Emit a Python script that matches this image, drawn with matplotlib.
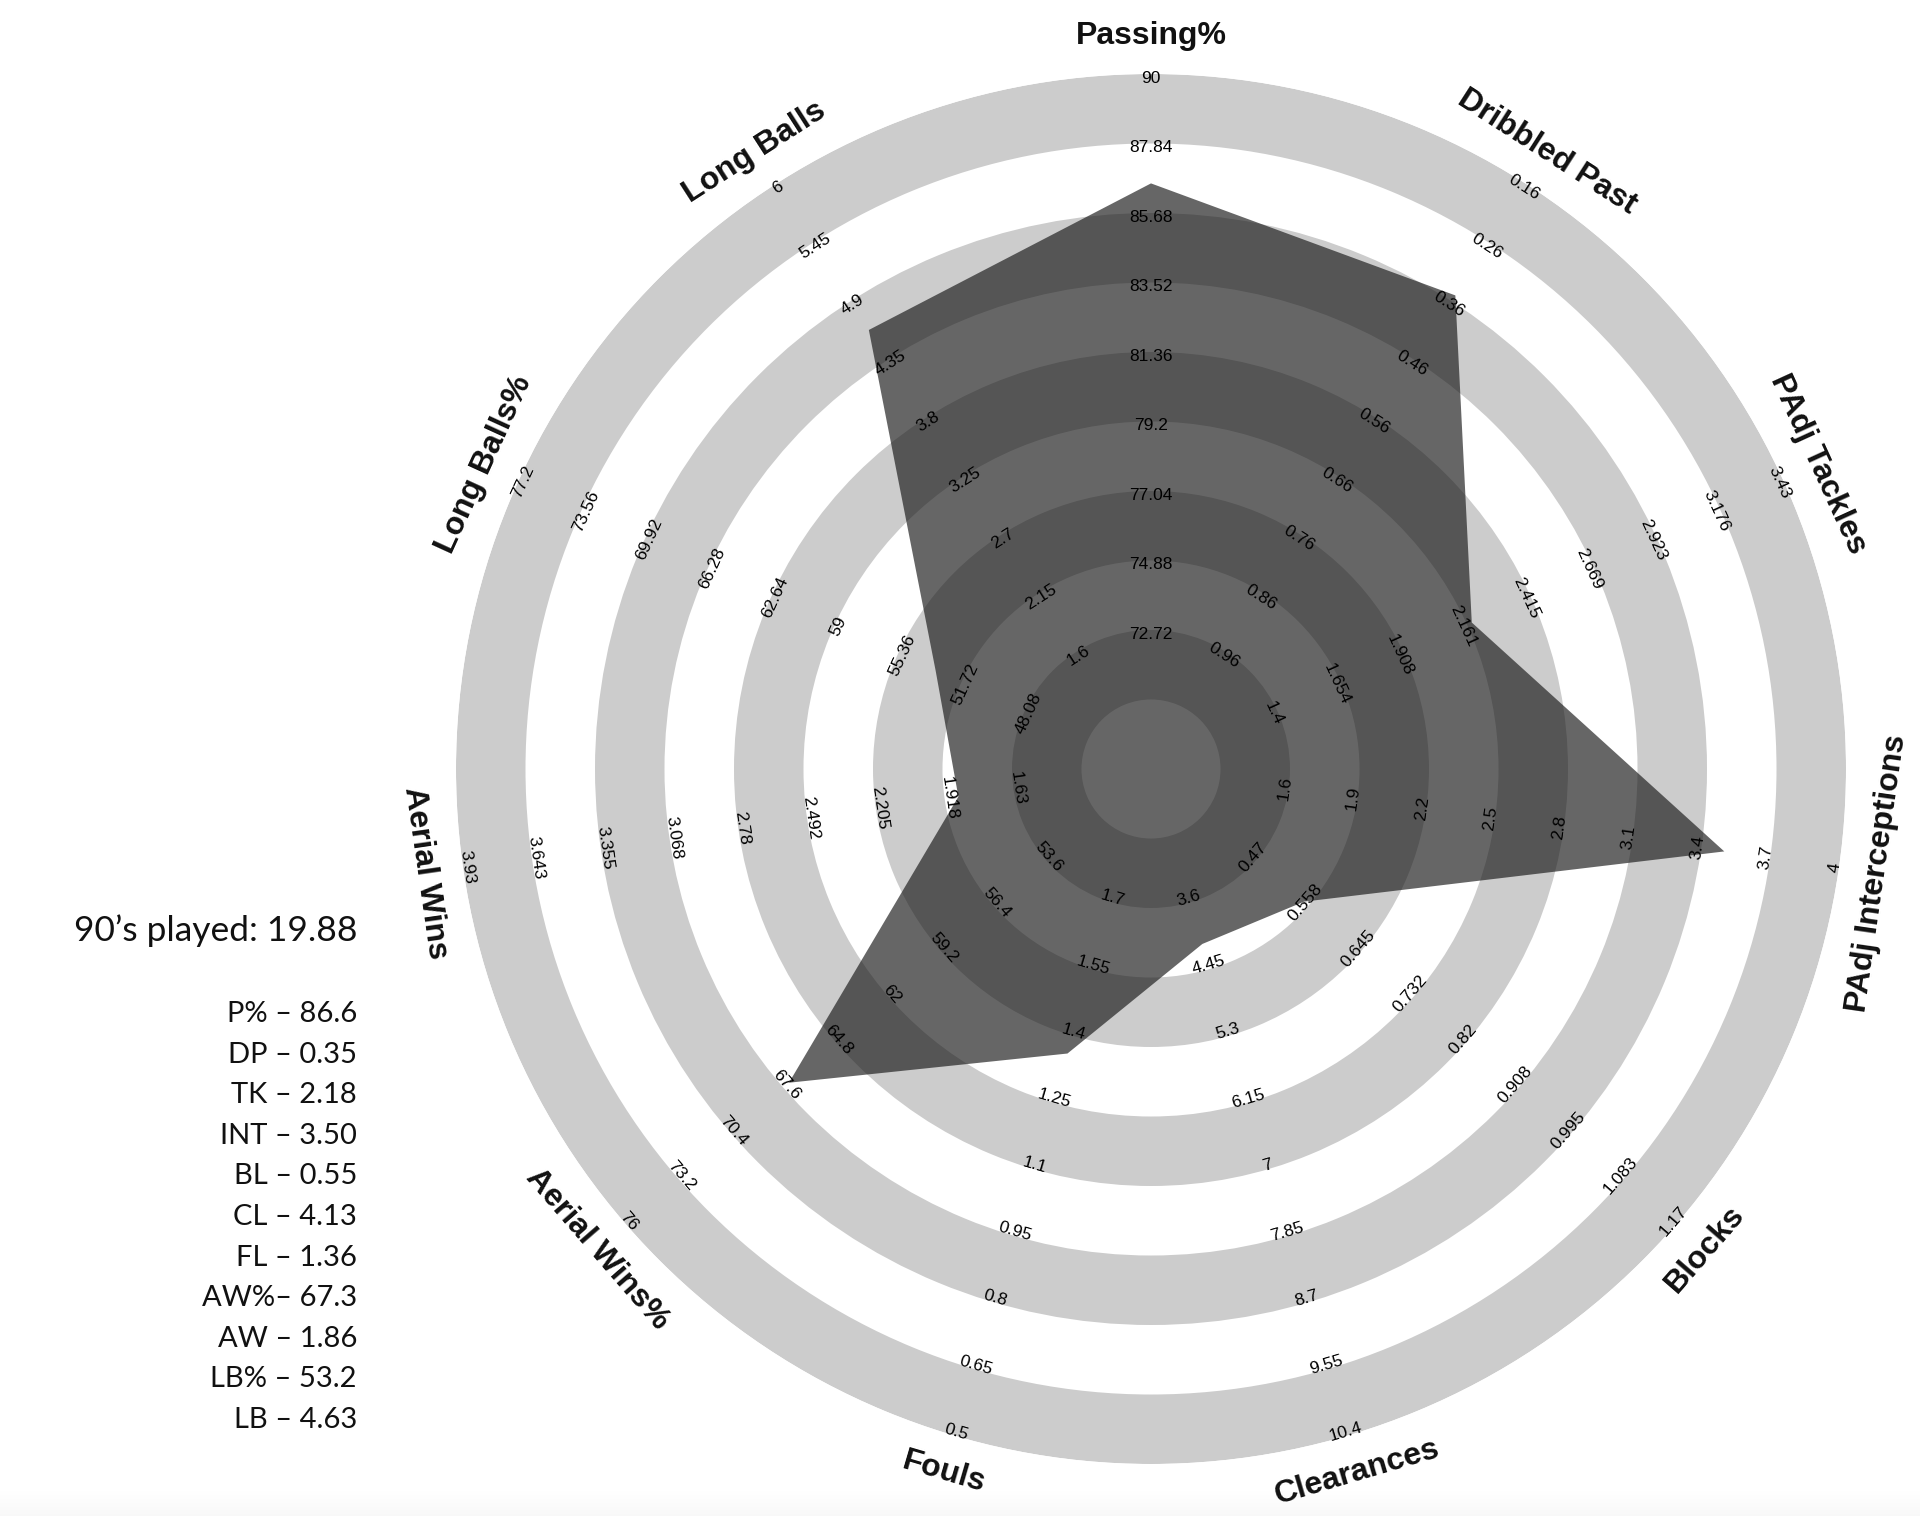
import numpy as np
import matplotlib
matplotlib.use("Agg")
import matplotlib.pyplot as plt

# ---------------- data ----------------
axis_names = ["Passing%", "Dribbled Past", "PAdj Tackles", "PAdj Interceptions",
              "Blocks", "Clearances", "Fouls", "Aerial Wins%", "Aerial Wins",
              "Long Balls%", "Long Balls"]

tick_passing = ["72.72", "74.88", "77.04", "79.2", "81.36", "83.52", "85.68", "87.84", "90"]
tick_dribbled = ["0.96", "0.86", "0.76", "0.66", "0.56", "0.46", "0.36", "0.26", "0.16"]
tick_tackles = ["1.4", "1.654", "1.908", "2.161", "2.415", "2.669", "2.923", "3.176", "3.43"]
tick_intercept = ["1.6", "1.9", "2.2", "2.5", "2.8", "3.1", "3.4", "3.7", "4"]
tick_blocks = ["0.47", "0.558", "0.645", "0.732", "0.82", "0.908", "0.995", "1.083", "1.17"]
tick_clear = ["3.6", "4.45", "5.3", "6.15", "7", "7.85", "8.7", "9.55", "10.4"]
tick_fouls = ["1.7", "1.55", "1.4", "1.25", "1.1", "0.95", "0.8", "0.65", "0.5"]
tick_aerialpct = ["53.6", "56.4", "59.2", "62", "64.8", "67.6", "70.4", "73.2", "76"]
tick_aerial = ["1.63", "1.918", "2.205", "2.492", "2.78", "3.068", "3.355", "3.643", "3.93"]
tick_longpct = ["48.08", "51.72", "55.36", "59", "62.64", "66.28", "69.92", "73.56", "77.2"]
tick_long = ["1.6", "2.15", "2.7", "3.25", "3.8", "4.35", "4.9", "5.45", "6"]

player_values = [86.6, 0.35, 2.18, 3.50, 0.55, 4.13, 1.36, 67.3, 1.86, 53.2, 4.63]

stat_labels = ["P% –", "DP –", "TK –", "INT –", "BL –", "CL –", "FL –",
               "AW%–", "AW –", "LB% –", "LB –"]
stat_decimals = [1, 2, 2, 2, 2, 2, 2, 1, 2, 1, 2]
nineties_played = 19.88

all_ticks = [tick_passing, tick_dribbled, tick_tackles, tick_intercept, tick_blocks,
             tick_clear, tick_fouls, tick_aerialpct, tick_aerial, tick_longpct, tick_long]

# ---------------- figure ----------------
W, H = 1920, 1516
fig = plt.figure(figsize=(W / 100, H / 100), dpi=100)
fig.patch.set_facecolor("white")

# very faint shadow strip along the bottom edge
bax = fig.add_axes([0, 0, 1, 26 / H])
bax.imshow(np.linspace(0.0, 1.0, 50).reshape(-1, 1) * np.ones((1, 10)),
           cmap="Greys", vmin=0, vmax=18, aspect="auto", extent=[0, 1, 0, 1])
bax.axis("off")

cx, cy, R = 1151, 769, 695  # centre & outer radius in pixels (layout)
ax = fig.add_axes([(cx - R) / W, (H - cy - R) / H, 2 * R / W, 2 * R / H],
                  projection="polar")
ax.set_theta_zero_location("N")
ax.set_theta_direction(-1)
ax.set_ylim(0, 10)
ax.axis("off")

n = len(axis_names)
thetas = np.array([2 * np.pi * i / n for i in range(n)])

# concentric bands
for k in [1, 3, 5, 7, 9]:
    ax.bar(0, 1, width=2 * np.pi, bottom=k, align="edge",
           color="#cccccc", linewidth=0, zorder=1)

# scale each value onto radius 2..10 using the axis' tick labels
def to_radius(v, ticks):
    t0, t1 = float(ticks[0]), float(ticks[-1])
    return 2 + 8 * (v - t0) / (t1 - t0)

radii = np.array([to_radius(v, t) for v, t in zip(player_values, all_ticks)])
ax.fill(np.append(thetas, thetas[0]), np.append(radii, radii[0]),
        color="#1a1a1a", alpha=0.667, linewidth=0, zorder=3)

def text_rotation(theta):
    phi = 90 - np.degrees(theta)  # math angle of axis
    if np.sin(np.radians(phi)) >= -1e-9:
        return phi - 90
    return phi + 90

for i, (name, ticks) in enumerate(zip(axis_names, all_ticks)):
    th = thetas[i]
    rot = text_rotation(th)
    for k, lab in enumerate(ticks):
        ax.text(th, k + 2 - 0.06, lab, rotation=rot, rotation_mode="anchor",
                ha="center", va="center", fontsize=12.5,
                family="Liberation Sans", color="black", zorder=5)
    ax.text(th, 10.55, name, rotation=rot, rotation_mode="anchor",
            ha="center", va="center", fontsize=23, fontweight="bold",
            family="Liberation Sans", color="#111111", zorder=5)

# left text block
fig.text(357 / W, 1 - 931 / H, f"90’s played: {nineties_played:.2f}",
         ha="right", va="center", fontsize=25.5, family="Lato", color="#111111")
for j, (lab, val, dec) in enumerate(zip(stat_labels, player_values, stat_decimals)):
    y = 1014 + j * 40.6
    fig.text(357 / W, 1 - y / H, f"{lab} {val:.{dec}f}",
             ha="right", va="center", fontsize=21, family="Lato", color="#111111")

fig.savefig("out.png", dpi=100, facecolor="white")
